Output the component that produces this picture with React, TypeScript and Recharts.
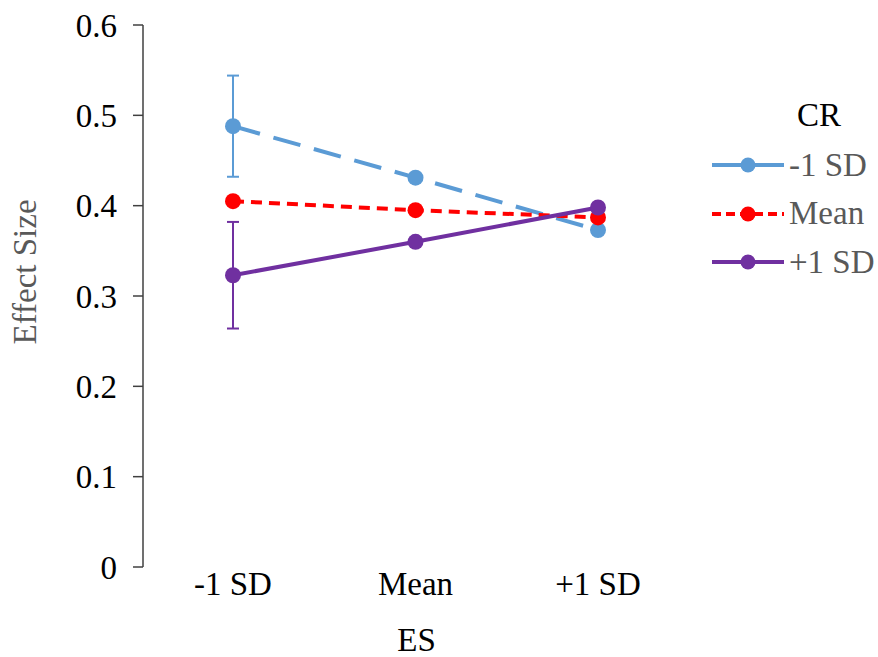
import { LineChart, Line, XAxis, YAxis, ErrorBar } from 'recharts';

const categories = ['-1 SD', 'Mean', '+1 SD'];
const minusSd = [0.488, 0.431, 0.373];
const meanCr = [0.405, 0.395, 0.387];
const plusSd = [0.323, 0.36, 0.398];
const minusSdErr = [0.056, null, null];
const plusSdErr = [0.059, null, null];
const yTicks = [0, 0.1, 0.2, 0.3, 0.4, 0.5, 0.6];

const data = categories.map((c, i) => ({
  es: c,
  minus: minusSd[i],
  mean: meanCr[i],
  plus: plusSd[i],
  minusErr: minusSdErr[i] ?? undefined,
  plusErr: plusSdErr[i] ?? undefined,
}));

const series = [
  { key: 'minus', name: '-1 SD', color: '#5B9BD5', dash: '28 14', legendDash: '' },
  { key: 'mean', name: 'Mean', color: '#FF0000', dash: '11 7', legendDash: '9 5' },
  { key: 'plus', name: '+1 SD', color: '#7030A0', dash: '', legendDash: '' },
];

const font = '"Liberation Serif", "Times New Roman", serif';
const fs = 33;

// legend drawn beside the chart, like the Excel one
function CrLegend() {
  return (
    <div style={{ position: 'absolute', left: 710, top: 96, fontFamily: font, fontSize: fs, lineHeight: 1 }}>
      <div style={{ color: '#000', marginLeft: 87, height: 38, display: 'flex', alignItems: 'center', marginBottom: 7 }}>CR</div>
      {series.map((s) => (
        <div key={s.key} style={{ display: 'flex', alignItems: 'center', height: 48.5, color: '#595959' }}>
          <svg width={76} height={20}>
            <line x1={2} y1={10} x2={74} y2={10} stroke={s.color} strokeWidth={4} strokeDasharray={s.legendDash} />
            <circle cx={38} cy={10} r={7.5} fill={s.color} />
          </svg>
          <span style={{ marginLeft: 3, whiteSpace: 'nowrap' }}>{s.name}</span>
        </div>
      ))}
    </div>
  );
}

function YTitle() {
  return (
    <text
      x={25}
      y={272}
      transform="rotate(-90 25 272)"
      textAnchor="middle"
      dominantBaseline="central"
      fill="#595959"
      fontSize={fs}
      fontFamily={font}
    >
      Effect Size
    </text>
  );
}

export default function App() {
  return (
    <div style={{ position: 'absolute', left: 0, top: 0, width: 878, height: 657, background: '#fff' }}>
      <LineChart width={878} height={657} data={data} margin={{ top: 25, right: 188, left: 0, bottom: 0 }}>
        <XAxis
          dataKey="es"
          axisLine={false}
          tickLine={false}
          tickSize={0}
          padding={{ left: 90, right: 92 }}
          height={90}
          tick={{ fill: '#000', fontSize: fs, fontFamily: font }}
          tickMargin={5}
          label={{ value: 'ES', position: 'insideBottom', offset: 6, style: { fill: '#000', fontSize: fs, fontFamily: font } }}
        />
        <YAxis
          domain={[0, 0.6]}
          ticks={yTicks}
          width={143}
          axisLine={{ stroke: '#404040', strokeWidth: 1.5 }}
          tickLine={{ stroke: '#404040', strokeWidth: 1.5 }}
          tickSize={10}
          tickMargin={16}
          tick={{ fill: '#000', fontSize: fs, fontFamily: font }}
          label={{ content: () => <YTitle /> }}
        />
        {series.map((s) => (
          <Line
            key={s.key}
            type="linear"
            dataKey={s.key}
            name={s.name}
            stroke={s.color}
            strokeWidth={4}
            strokeDasharray={s.dash}
            dot={{ r: 8, fill: s.color, stroke: s.color, strokeWidth: 0, strokeDasharray: '' }}
            activeDot={false}
            isAnimationActive={false}
          >
            {s.key === 'minus' && <ErrorBar dataKey="minusErr" direction="y" width={6} stroke={s.color} strokeWidth={2} />}
            {s.key === 'plus' && <ErrorBar dataKey="plusErr" direction="y" width={6} stroke={s.color} strokeWidth={2} />}
          </Line>
        ))}
      </LineChart>
      <CrLegend />
    </div>
  );
}
